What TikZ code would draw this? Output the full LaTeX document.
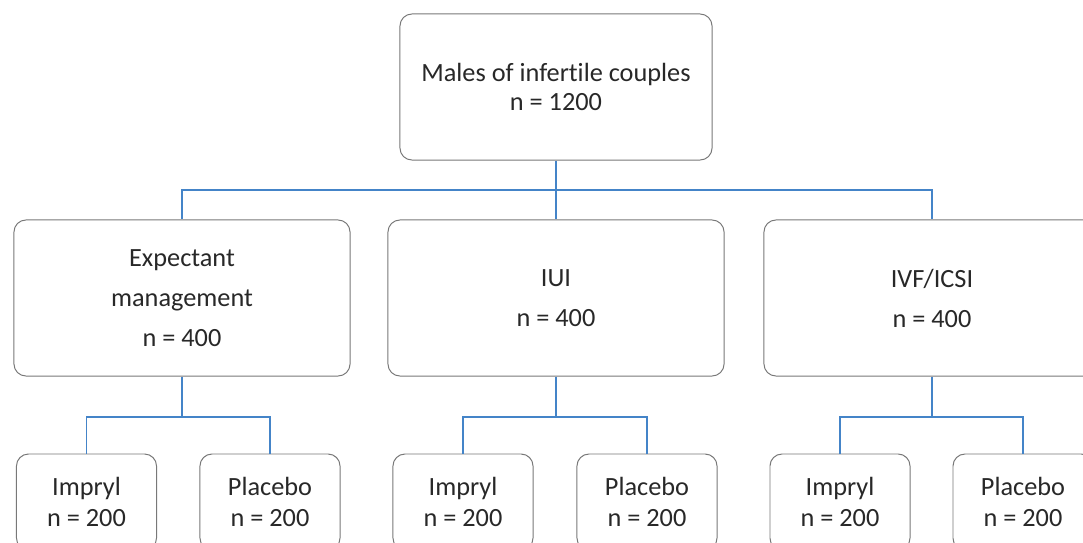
\documentclass[tikz,border=0pt]{standalone}
\usepackage{xcolor}
\usepackage{fontspec}
\setmainfont{Carlito}[Ligatures=NoCommon]
\usetikzlibrary{positioning,calc}
\definecolor{boxgray}{RGB}{120,120,120}
\definecolor{linkblue}{RGB}{68,132,200}
\definecolor{textgray}{RGB}{40,40,40}
\tikzstyle{box}=[draw=boxgray, line width=0.7pt, rounded corners=0.3cm, align=center, inner sep=0, fill=white, text=textgray]
\tikzset{link/.style={draw=linkblue, line width=1.3pt}, trunk/.style={link, line width=2pt}}
\newcommand{\drawtop}{\node[box, minimum width=7.8cm, minimum height=3.65cm, font=\fontsize{18.7}{20.6}\selectfont]}
\newcommand{\drawarm}{\node[box, minimum width=8.4cm, minimum height=3.9cm, font=\fontsize{18.7}{28.5}\selectfont]}
\newcommand{\drawleaf}{\node[box, minimum width=3.5cm, minimum height=2.4cm, font=\fontsize{18.7}{21.5}\selectfont]}

\begin{document}
\begin{tikzpicture}[x=0.025cm, y=-0.025cm]

	\path[use as bounding box, clip] (0,0) rectangle (1083,542);%same size as the original

	\drawtop (top) at (556,87) {Males of infertile couples\\n = 1200};

	\drawarm (exp) at (182,298) {Expectant\\management\\n = 400};
	\drawarm (iui) at (556,298) {IUI\\n = 400};
	\drawarm (ivf) at (932,298) {IVF/ICSI\\n = 400};

	\drawleaf (impA) at (86.5,502) {Impryl\\n = 200};
	\drawleaf (plaA) at (270,502) {Placebo\\n = 200};
	\drawleaf (impB) at (463,502) {Impryl\\n = 200};
	\drawleaf (plaB) at (647,502) {Placebo\\n = 200};
	\drawleaf (impC) at (840,502) {Impryl\\n = 200};
	\drawleaf (plaC) at (1023,502) {Placebo\\n = 200};

	\coordinate (j0) at (556,190);
	\coordinate (jA) at (182,417);
	\coordinate (jB) at (556,417);
	\coordinate (jC) at (932,417);


	\draw[trunk] (top) -- (j0);
	\draw[link] (j0) -| (exp);
	\draw[link] (j0) -- (iui);
	\draw[link] (j0) -| (ivf);

	\draw[trunk] (exp) -- (jA);
	\draw[link] (jA) -| (impA);
	\draw[link] (jA) -| (plaA);
	\draw[trunk] (iui) -- (jB);
	\draw[link] (jB) -| (impB);
	\draw[link] (jB) -| (plaB);
	\draw[trunk] (ivf) -- (jC);
	\draw[link] (jC) -| (impC);
	\draw[link] (jC) -| (plaC);

\end{tikzpicture}
\end{document}
